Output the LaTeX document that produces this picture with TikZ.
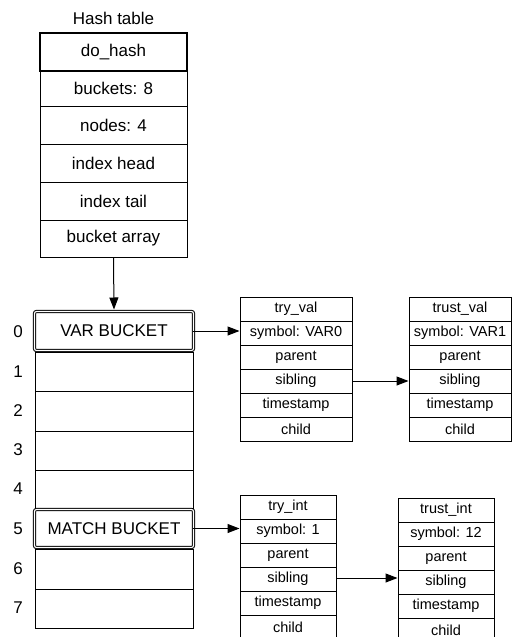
\documentclass[tikz,border=0pt]{standalone}
\usepackage{fontspec}
\setmainfont{Liberation Sans}
\usetikzlibrary{arrows.meta}
\tikzset{
  bigtxt/.style={font=\fontsize{17}{20}\selectfont},
  smalltxt/.style={font=\fontsize{14.5}{17}\selectfont},
  hcell/.style={draw, line width=1pt, inner sep=0pt, minimum width=147pt, bigtxt},
  bcell/.style={draw, line width=1pt, inner sep=0pt, minimum width=158pt, minimum height=39pt, bigtxt},
  dcell/.style={draw, line width=1pt, double, double distance=1.2pt, rounded corners=2pt, inner sep=0pt, minimum width=159pt, bigtxt},
  ncell/.style={draw, line width=1pt, inner sep=0pt, minimum height=24pt, smalltxt},
  idx/.style={inner sep=0pt, bigtxt},
  arr/.style={line width=1pt, -{Triangle[length=12pt,width=9pt]}}
}
\begin{document}
\begin{tikzpicture}[x=1pt,y=-1pt]
\useasboundingbox (0,0) rectangle (512,637);
\clip (0,0) rectangle (512,637);
% Hash table
\node[inner sep=0pt, bigtxt] (title) at (113.5,18) {Hash table};
\node[hcell, minimum height=35pt] (h2) at (113.5,88.5) {buckets: 8};
\node[hcell, minimum height=38pt] (h3) at (113.5,125) {nodes: 4};
\node[hcell, minimum height=38pt] (h4) at (113.5,163) {index head};
\node[hcell, minimum height=38pt] (h5) at (113.5,201) {index tail};
\node[hcell, minimum height=37pt] (h6) at (113.5,238.5) {bucket array};
\node[hcell, minimum height=38pt, line width=2.5pt] (h1) at (113.5,52) {do\_hash};
% Bucket array
\node[bcell] (b1) at (114,371.5) {};
\node[bcell, minimum height=40pt] (b2) at (114,411) {};
\node[bcell] (b3) at (114,450.5) {};
\node[bcell, minimum height=38pt] (b4) at (114,489) {};
\node[bcell, minimum height=40pt] (b6) at (114,569) {};
\node[bcell] (b7) at (114,608.5) {};
\node[dcell, minimum height=39pt] (b0) at (114,331) {VAR BUCKET};
\node[dcell, minimum height=38pt] (b5) at (114,528.5) {MATCH BUCKET};
% indices
\node[idx] (i0) at (18,332) {0};
\node[idx] (i1) at (18,372) {1};
\node[idx] (i2) at (18,411) {2};
\node[idx] (i3) at (18,450) {3};
\node[idx] (i4) at (18,489) {4};
\node[idx] (i5) at (18,529) {5};
\node[idx] (i6) at (18,569) {6};
\node[idx] (i7) at (18,608) {7};
% try_val
\begin{scope}[every node/.append style={ncell, minimum width=112pt}]
\node (tv1) at (296,309) {try\_val};
\node (tv2) at (296,333) {symbol: VAR0};
\node (tv3) at (296,357) {parent};
\node (tv4) at (296,381) {sibling};
\node (tv5) at (296,405) {timestamp};
\node (tv6) at (296,429) {child};
\end{scope}
% trust_val
\begin{scope}[every node/.append style={ncell, minimum width=102pt}]
\node (uv1) at (460,309) {trust\_val};
\node (uv2) at (460,333) {symbol: VAR1};
\node (uv3) at (460,357) {parent};
\node (uv4) at (460,381) {sibling};
\node (uv5) at (460,405) {timestamp};
\node (uv6) at (460,429) {child};
\end{scope}
% try_int
\begin{scope}[every node/.append style={ncell, minimum width=96pt}]
\node (ti1) at (288,507) {try\_int};
\node (ti2) at (288,531) {symbol: 1};
\node (ti3) at (288,555) {parent};
\node (ti4) at (288,579) {sibling};
\node (ti5) at (288,603) {timestamp};
\node (ti6) at (288,627) {child};
\end{scope}
% trust_int
\begin{scope}[every node/.append style={ncell, minimum width=96pt}]
\node (ui1) at (446,510) {trust\_int};
\node (ui2) at (446,534) {symbol: 12};
\node (ui3) at (446,558) {parent};
\node (ui4) at (446,582) {sibling};
\node (ui5) at (446,606) {timestamp};
\node (ui6) at (446,630) {child};
\end{scope}
% arrows
\draw[arr, shorten >=1.5pt] (h6.south) -- (b0.north);
\draw[arr, shorten <=-1.5pt] (b0.east) -- (b0.east -| tv2.west);
\draw[arr, shorten <=-1.5pt] (b5.east) -- (b5.east -| ti2.west);
\draw[arr] (tv4.east) -- (tv4.east -| uv4.west);
\draw[arr] ([yshift=1pt]ti4.east) -- ([yshift=1pt]ti4.east -| ui4.west);
\end{tikzpicture}
\end{document}
